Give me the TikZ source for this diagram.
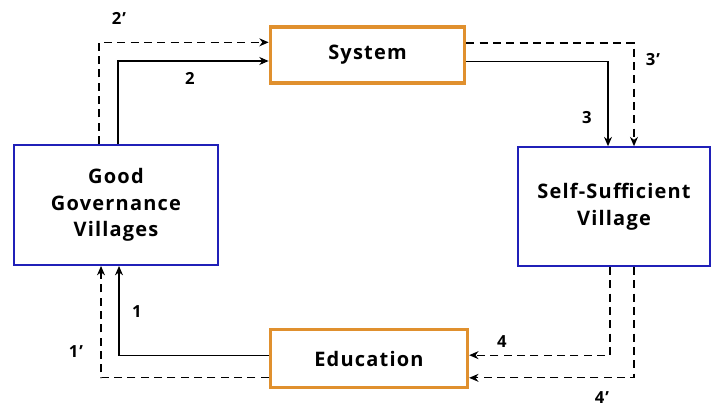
\documentclass[tikz,border=0pt]{standalone}
\usepackage{fontspec}
\setmainfont{Open Sans}[LetterSpace=6]
\usepackage{tikz}
\usetikzlibrary{arrows.meta}

\definecolor{boxorange}{HTML}{E0902E}
\definecolor{boxblue}{HTML}{2020B8}

\tikzset{
  village/.style={draw=boxblue, line width=1.5pt, align=center, font=\fontsize{15}{20}\bfseries},
  means/.style={draw=boxorange, line width=2.3pt, align=center, font=\fontsize{15}{20}\bfseries},
  flow/.style={line width=0.8pt, -{Stealth[length=7pt,width=6pt]}},
  flowd/.style={flow, dash pattern=on 6pt off 4pt},
  tag/.style={font=\fontsize{12.5}{14}\bfseries}
}

\begin{document}
\begin{tikzpicture}[x=0.75pt,y=-0.75pt]

        %Frame
        \useasboundingbox (0,0) rectangle (711,407);

        %Boxes
        \node [village, minimum width=153pt, minimum height=90pt] (gov) at (116,205) {Good\\Governance\\Villages};
        \node [means, minimum width=146pt, minimum height=42pt] (sys) at (367.5,55) {System};
        \node [village, minimum width=144pt, minimum height=89pt] (self) at (614,206.5) {Self-Sufficient\\Village};
        \node [means, minimum width=148pt, minimum height=44pt] (edu) at (369,358.5) {Education};

        %Solid path
        \draw [flow] (gov.north -| 118,0) |- ([yshift=-4.5pt]sys.west);
        \draw [flow] ([yshift=-5pt]sys.east) -| (self.north -| 608,0);
        \draw [flow] ([yshift=2pt]edu.west) -| (gov.south -| 119,0);

        %Dashed path
        \draw [flowd] (gov.north -| 99,0) |- ([yshift=9.5pt]sys.west);
        \draw [flowd] ([yshift=9pt]sys.east) -| (self.north -| 634,0);
        \draw [flowd] (self.south -| 610,0) |- ([yshift=2.5pt]edu.east);
        \draw [flowd] (self.south -| 634,0) |- ([yshift=-14.5pt]edu.east);
        \draw [flowd] ([yshift=-14.5pt]edu.west) -| (gov.south -| 101,0);

        %Labels
        \node [tag] (l2) at (190,78) {2};
        \node [tag] (l2p) at (119,18) {2’};
        \node [tag] (l3) at (587,118) {3};
        \node [tag] (l3p) at (653,60) {3’};
        \node [tag] (l4) at (502,342) {4};
        \node [tag] (l4p) at (602,398) {4’};
        \node [tag] (l1) at (137,312) {1};
        \node [tag] (l1p) at (76,352) {1’};

\end{tikzpicture}
\end{document}
